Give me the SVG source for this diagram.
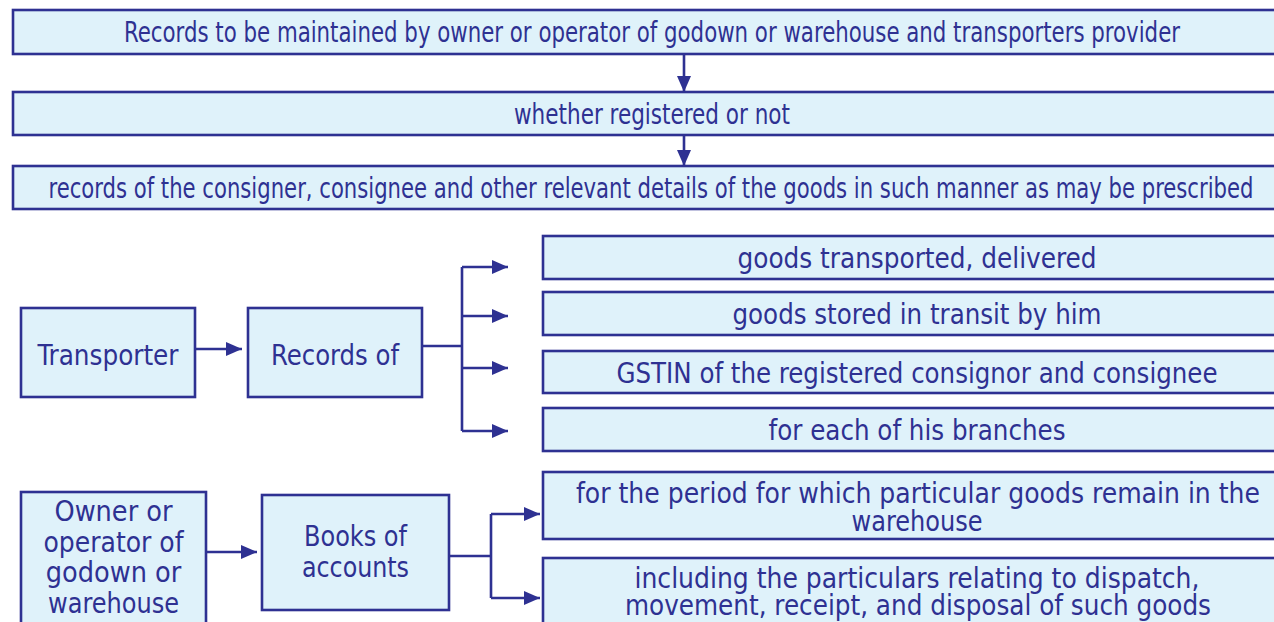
<svg xmlns="http://www.w3.org/2000/svg" width="1274" height="622" viewBox="0 0 1274 622">
<style>
.box{fill:#dff2fa;stroke:#2e3192;stroke-width:2.6}
.t{font-family:"DejaVu Sans Condensed","DejaVu Sans",sans-serif;font-size:28.5px;fill:#2e3192;text-anchor:middle}
.c{fill:none;stroke:#2e3192;stroke-width:2.6}
</style>
<defs>
<marker id="ah" markerUnits="userSpaceOnUse" markerWidth="18" markerHeight="14" refX="16" refY="7" orient="auto">
<path d="M0,0 L16,7 L0,14 Z" fill="#2e3192"/>
</marker>
</defs>
<rect width="1274" height="622" fill="#ffffff"/>
<g id="n1"><rect class="box" x="13" y="10" width="1280" height="44"/><text class="t" x="652" y="42" textLength="1056" lengthAdjust="spacingAndGlyphs">Records to be maintained by owner or operator of godown or warehouse and transporters provider</text></g>
<g id="n2"><rect class="box" x="13" y="92" width="1280" height="43"/><text class="t" x="652" y="124" textLength="276" lengthAdjust="spacingAndGlyphs">whether registered or not</text></g>
<g id="n3"><rect class="box" x="13" y="166" width="1280" height="43"/><text class="t" x="651" y="198" textLength="1205" lengthAdjust="spacingAndGlyphs">records of the consigner, consignee and other relevant details of the goods in such manner as may be prescribed</text></g>
<g id="transporter"><rect class="box" x="21" y="308" width="174" height="89"/><text class="t" x="108" y="365" textLength="141" lengthAdjust="spacingAndGlyphs">Transporter</text></g>
<g id="records"><rect class="box" x="248" y="308" width="174" height="89"/><text class="t" x="335" y="365" textLength="128" lengthAdjust="spacingAndGlyphs">Records of</text></g>
<g id="r1"><rect class="box" x="543" y="236" width="748" height="43"/><text class="t" x="917" y="268" textLength="359" lengthAdjust="spacingAndGlyphs">goods transported, delivered</text></g>
<g id="r2"><rect class="box" x="543" y="292" width="748" height="43"/><text class="t" x="917" y="324" textLength="369" lengthAdjust="spacingAndGlyphs">goods stored in transit by him</text></g>
<g id="r3"><rect class="box" x="543" y="351" width="748" height="42"/><text class="t" x="917" y="383" textLength="601" lengthAdjust="spacingAndGlyphs">GSTIN of the registered consignor and consignee</text></g>
<g id="r4"><rect class="box" x="543" y="408" width="748" height="43"/><text class="t" x="917" y="440" textLength="297" lengthAdjust="spacingAndGlyphs">for each of his branches</text></g>
<g id="owner"><rect class="box" x="21" y="492" width="185" height="150"/><text class="t" x="113.5" y="521">Owner or</text><text class="t" x="113.5" y="552" textLength="140" lengthAdjust="spacingAndGlyphs">operator of</text><text class="t" x="113.5" y="582">godown or</text><text class="t" x="113.5" y="613" textLength="131" lengthAdjust="spacingAndGlyphs">warehouse</text></g>
<g id="books"><rect class="box" x="262" y="495" width="187" height="115"/><text class="t" x="355.5" y="546" textLength="103" lengthAdjust="spacingAndGlyphs">Books of</text><text class="t" x="355.5" y="577" textLength="107" lengthAdjust="spacingAndGlyphs">accounts</text></g>
<g id="b1"><rect class="box" x="543" y="472" width="748" height="67"/><text class="t" x="918" y="503" textLength="684" lengthAdjust="spacingAndGlyphs">for the period for which particular goods remain in the</text><text class="t" x="917" y="531" textLength="131" lengthAdjust="spacingAndGlyphs">warehouse</text></g>
<g id="b2"><rect class="box" x="543" y="558" width="748" height="84"/><text class="t" x="917" y="588" textLength="565" lengthAdjust="spacingAndGlyphs">including the particulars relating to dispatch,</text><text class="t" x="918" y="615" textLength="586" lengthAdjust="spacingAndGlyphs">movement, receipt, and disposal of such goods</text></g>
<g id="connectors">
<path class="c" d="M684,54 V92" marker-end="url(#ah)"/>
<path class="c" d="M684,135 V166" marker-end="url(#ah)"/>
<path class="c" d="M195,349 H242" marker-end="url(#ah)"/>
<path class="c" d="M422,346 H462 M462,267 V431"/>
<path class="c" d="M462,267 H508" marker-end="url(#ah)"/>
<path class="c" d="M462,316 H508" marker-end="url(#ah)"/>
<path class="c" d="M462,368 H508" marker-end="url(#ah)"/>
<path class="c" d="M462,431 H508" marker-end="url(#ah)"/>
<path class="c" d="M206,552 H257" marker-end="url(#ah)"/>
<path class="c" d="M449,556 H491 M491,514 V598"/>
<path class="c" d="M491,514 H540" marker-end="url(#ah)"/>
<path class="c" d="M491,598 H540" marker-end="url(#ah)"/>
</g>
</svg>
